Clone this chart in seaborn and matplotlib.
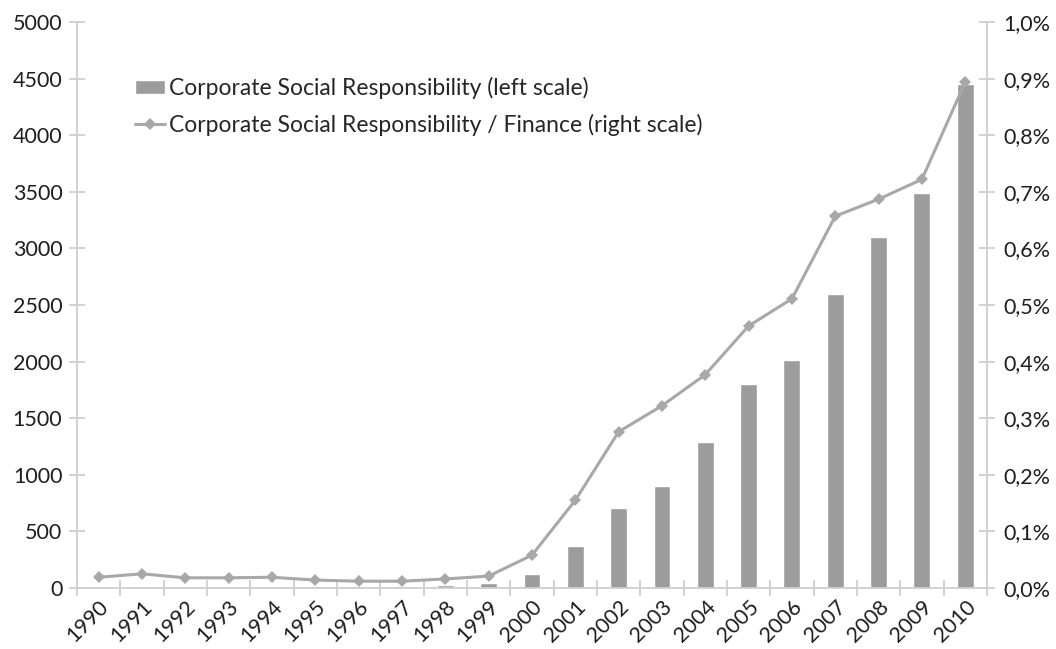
import numpy as np
import pandas as pd
import matplotlib
matplotlib.use("Agg")
import matplotlib.pyplot as plt
import seaborn as sns
from matplotlib.ticker import FuncFormatter, FixedLocator, NullFormatter

years = [str(y) for y in range(1990, 2011)]
csr_counts = [5, 8, 8, 8, 12, 15, 15, 20, 30, 45, 120, 370, 710, 900, 1290,
              1800, 2010, 2600, 3100, 3490, 4450]
csr_share = [0.019, 0.025, 0.018, 0.018, 0.019, 0.014, 0.012, 0.012, 0.016, 0.021,
             0.058, 0.155, 0.276, 0.322, 0.377, 0.463, 0.511, 0.657, 0.687, 0.722, 0.894]

sns.set_style("white")
plt.rcParams['font.family'] = ['Lato', 'DejaVu Sans']

bar_color = "#9c9c9c"
line_color = "#a8a8a8"
axis_color = "#cfcfcf"
text_color = "#1e1e1e"
fs = 15.5

df = pd.DataFrame({"year": years, "count": csr_counts, "share": csr_share})
df["pos"] = np.arange(len(years))

fig = plt.figure(figsize=(10.56, 6.49), dpi=100)
ax = fig.add_axes([0.0729, 0.0940, 0.8617, 0.8721])

sns.barplot(data=df, x="year", y="count", color=bar_color, width=0.39,
            saturation=1, ax=ax, label="Corporate Social Responsibility (left scale)")
ax.set_xlim(-0.5, len(years) - 0.5)
ax.set_ylim(0, 5000)
ax.set_yticks(range(0, 5001, 500))
ax.set_xlabel("")
ax.set_ylabel("")

ax2 = ax.twinx()
sns.lineplot(data=df, x="pos", y="share", color=line_color, linewidth=2.2,
             marker="D", markersize=6.5, markeredgewidth=0, ax=ax2,
             label="Corporate Social Responsibility / Finance (right scale)")
ax2.set_ylim(0, 1.0)
ax2.set_yticks(np.arange(0, 1.01, 0.1))
ax2.yaxis.set_major_formatter(FuncFormatter(lambda v, p: f"{v:.1f}%".replace(".", ",")))
ax2.set_ylabel("")
ax2.set_xlabel("")
ax2.set_xlim(-0.5, len(years) - 0.5)

for a in (ax, ax2):
    for s in a.spines.values():
        s.set_visible(False)
ax.spines["left"].set_visible(True)
ax.spines["left"].set_color(axis_color)
ax.spines["left"].set_linewidth(1.3)
ax.spines["bottom"].set_visible(True)
ax.spines["bottom"].set_color(axis_color)
ax.spines["bottom"].set_linewidth(1.3)
ax2.spines["right"].set_visible(True)
ax2.spines["right"].set_color(axis_color)
ax2.spines["right"].set_linewidth(1.3)

ax.tick_params(axis="y", which="major", length=12, width=1.3, color=axis_color, labelsize=fs,
               labelcolor=text_color, direction="inout", left=True, pad=4.5)
ax2.tick_params(axis="y", which="major", length=12, width=1.3, color=axis_color, labelsize=fs,
                labelcolor=text_color, direction="inout", right=True, pad=5.5)
ax.tick_params(axis="x", which="major", length=0, labelsize=fs, labelcolor=text_color, pad=6)
ax.xaxis.set_minor_locator(FixedLocator(np.arange(-0.5, len(years), 1.0)))
ax.xaxis.set_minor_formatter(NullFormatter())
ax.tick_params(axis="x", which="minor", length=11, width=1.3, color=axis_color,
               direction="inout", bottom=True)
for lbl in ax.get_xticklabels():
    lbl.set_rotation(45)
    lbl.set_ha("right")
    lbl.set_rotation_mode("anchor")

h1, l1 = ax.get_legend_handles_labels()
h2, l2 = ax2.get_legend_handles_labels()
if ax.get_legend():
    ax.get_legend().remove()
if ax2.get_legend():
    ax2.get_legend().remove()
ax2.legend(h1 + h2, l1 + l2, loc="upper left", bbox_to_anchor=(0.1278, 0.8817),
           bbox_transform=fig.transFigure, borderpad=0, borderaxespad=0,
           frameon=False, fontsize=16.5, handlelength=1.31, handleheight=0.57,
           handletextpad=0.18, labelspacing=0.65)

fig.savefig("out.png", dpi=100)
